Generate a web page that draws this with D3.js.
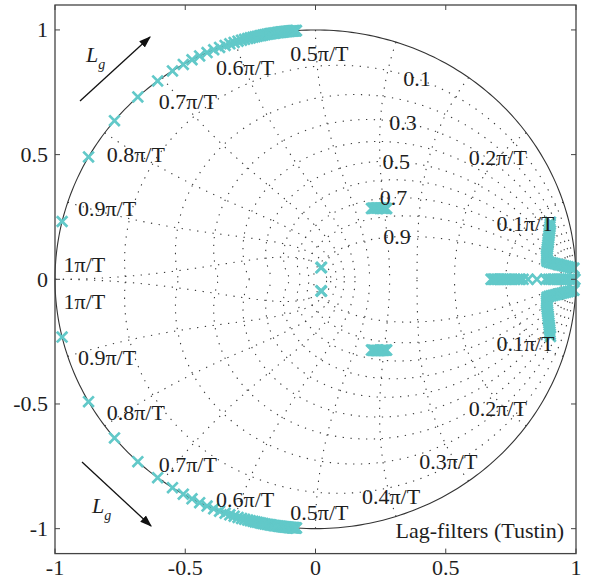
<!DOCTYPE html>
<html><head><meta charset="utf-8">
<script src="https://cdn.jsdelivr.net/npm/d3@7/dist/d3.min.js"></script>
<style>
html,body{margin:0;padding:0;background:#fff;}
</style></head>
<body><svg id="c" width="594" height="580" font-family="'Liberation Serif','Times New Roman',serif"></svg>
<script>
// ---------- data ----------
const xTicks = [-1, -0.5, 0, 0.5, 1];
const yTicks = [-1, -0.5, 0, 0.5, 1];
const xTickLabels = ["-1", "-0.5", "0", "0.5", "1"];
const yTickLabels = ["-1", "-0.5", "0", "0.5", "1"];
const zetaGrid = [0.1, 0.2, 0.3, 0.4, 0.5, 0.6, 0.7, 0.8, 0.9];
const zetaLabels = ["0.1", "0.3", "0.5", "0.7", "0.9"];
const zetaLabelAngle = [1.12, 1.08, 0.99, 0.83, 0.50];   // rad along spiral
const wnGrid = [0.1, 0.2, 0.3, 0.4, 0.5, 0.6, 0.7, 0.8, 0.9, 1.0]; // x pi/T
const wnLabels = ["0.1", "0.2", "0.3", "0.4", "0.5", "0.6", "0.7", "0.8", "0.9", "1"];
const wnLabelShowTop = [true, true, false, false, true, true, true, true, true, true];
// label anchor positions (upper half, data units)
const wnLabelX = [0.806, 0.700, 0.510, 0.290, 0.015, -0.270, -0.490, -0.690, -0.800, -0.887];
const wnLabelY = [0.241, 0.503, 0.714, 0.854, 0.920, 0.866, 0.728, 0.517, 0.299, 0.074];
// poles on unit circle (upper half, angle in degrees); lower half = conjugates
const circlePoleDeg = [166.6,150.6,140.5,133.0,127.3,123.3,120.5,118.3,116.4,114.6,113.0,111.6,110.3,109.2,108.2,107.3,106.5,105.8,105.1,104.5,103.9,103.4,102.9,102.4,102.0,101.6,101.2,100.8,100.4,100.1,99.8,99.5,99.2,98.9,98.6,98.3,98.1,97.8,97.6,97.4,97.2,97.0,96.8,96.6,96.4,96.2,96.0,95.8,95.7,95.5,95.3,95.2,95.0,94.9,94.7,94.6,94.4,94.3,94.2];
// other upper-half complex poles (re, im)
const poleRe = [0.021, 0.023,
  0.215,0.22,0.225,0.23,0.235,0.24,0.245,0.25,0.255,0.26,0.265,0.27,0.273,
  0.902,0.901,0.900,0.899,0.898,0.897,0.896,0.895,0.894,0.893,0.892,0.891,0.890,0.889,0.888,0.887,0.887,0.888,0.889,
  0.897,0.905,0.913,0.921,0.929,0.937,0.945,0.953,0.961,0.969,0.977,0.985,0.992];
const poleIm = [0.046, 0.048,
  0.284,0.285,0.285,0.286,0.286,0.286,0.286,0.286,0.285,0.285,0.285,0.284,0.284,
  0.229,0.220,0.211,0.202,0.193,0.184,0.175,0.166,0.157,0.148,0.139,0.130,0.121,0.112,0.103,0.095,0.087,0.079,0.072,
  0.068,0.066,0.064,0.062,0.060,0.058,0.056,0.054,0.052,0.050,0.048,0.046,0.044];
// real-axis poles
const realPoles = [0.674,0.679,0.684,0.689,0.695,0.701,0.707,0.714,0.721,0.729,0.737,0.746,0.755,0.765,0.775,0.786,0.797,
  0.816,0.850,0.883,
  0.895,0.903,0.911,0.919,0.927,0.935,0.943,0.951,0.959,0.967,0.975,0.983,0.990,0.996];
const annotation = "Lag-filters (Tustin)";

// ---------- scales ----------
const svg = d3.select("#c");
const x = d3.scaleLinear().domain([-1, 1]).range([55, 576]);
const y = d3.scaleLinear().domain([-1.1, 1.1]).range([553.6, 5]);
const ink = "#1e1e1e";
const poleColor = "#62C9C9";
const line = d3.line().x(d => x(d[0])).y(d => y(d[1]));

// ---------- grid ----------
const g = svg.append("g");
const gridStyle = p => p.attr("fill", "none").attr("stroke", "#3a3a3a").attr("stroke-width", 1.1)
  .attr("stroke-dasharray", "1.3,6.5").attr("stroke-linecap", "butt");
zetaGrid.forEach(z => {
  const k = z / Math.sqrt(1 - z * z);
  [1, -1].forEach(sg => {
    const pts = d3.range(0, 201).map(i => {
      const th = Math.PI * i / 200, r = Math.exp(-k * th);
      return [r * Math.cos(th), sg * r * Math.sin(th)];
    });
    g.append("path").attr("d", line(pts)).call(gridStyle);
  });
});
wnGrid.forEach(w => {
  [1, -1].forEach(sg => {
    const pts = d3.range(0, 201).map(i => {
      const z = i / 200, r = Math.exp(-z * w * Math.PI), th = w * Math.PI * Math.sqrt(1 - z * z);
      return [r * Math.cos(th), sg * r * Math.sin(th)];
    });
    g.append("path").attr("d", line(pts)).call(gridStyle);
  });
});

// unit circle
const circ = d3.range(0, 361).map(i => [Math.cos(i * Math.PI / 180), Math.sin(i * Math.PI / 180)]);
svg.append("path").attr("d", line(circ)).attr("fill", "none").attr("stroke", "#333").attr("stroke-width", 1.1);

// ---------- poles ----------
const poles = [];
circlePoleDeg.forEach(a => { const t = a * Math.PI / 180; poles.push([Math.cos(t), Math.sin(t)]); poles.push([Math.cos(t), -Math.sin(t)]); });
poleRe.forEach((re, i) => { poles.push([re, poleIm[i]]); poles.push([re, -poleIm[i]]); });
realPoles.forEach(re => poles.push([re, 0]));
const s = 5.3;
svg.append("g").selectAll("path").data(poles).join("path")
  .attr("d", d => { const cx = x(d[0]), cy = y(d[1]);
    return `M${cx - s},${cy - s}L${cx + s},${cy + s}M${cx - s},${cy + s}L${cx + s},${cy - s}`; })
  .attr("stroke", poleColor).attr("stroke-width", 2.7).attr("fill", "none");

// ---------- grid labels ----------
const fs = 22;
const txt = () => svg.append("text").attr("fill", ink).attr("font-size", fs);
zetaLabels.forEach((lab, i) => {
  const z = +lab, k = z / Math.sqrt(1 - z * z), th = zetaLabelAngle[i], r = Math.exp(-k * th);
  txt().attr("x", x(r * Math.cos(th))).attr("y", y(r * Math.sin(th)))
    .attr("text-anchor", "middle").attr("dominant-baseline", "central").text(lab);
});
wnLabels.forEach((lab, i) => {
  [1, -1].forEach(sg => {
    if (sg === 1 && !wnLabelShowTop[i]) return;
    txt().attr("x", x(wnLabelX[i])).attr("y", y(sg * wnLabelY[i]) + 4)
      .attr("text-anchor", "middle").attr("dominant-baseline", "central").text(lab + "π/T");
  });
});

// ---------- axes box ----------
const [x0, x1] = x.range(), [y0, y1] = y.range();
const axc = "#444";
svg.append("rect").attr("x", x0).attr("y", y1).attr("width", x1 - x0).attr("height", y0 - y1)
  .attr("fill", "none").attr("stroke", axc).attr("stroke-width", 1.3);
const tl = 5;
xTicks.forEach((t, i) => {
  svg.append("line").attr("x1", x(t)).attr("x2", x(t)).attr("y1", y0).attr("y2", y0 - tl).attr("stroke", axc);
  svg.append("line").attr("x1", x(t)).attr("x2", x(t)).attr("y1", y1).attr("y2", y1 + tl).attr("stroke", axc);
  txt().attr("x", x(t)).attr("y", 575).attr("text-anchor", "middle").text(xTickLabels[i]);
});
yTicks.forEach((t, i) => {
  svg.append("line").attr("y1", y(t)).attr("y2", y(t)).attr("x1", x0).attr("x2", x0 + tl).attr("stroke", axc);
  svg.append("line").attr("y1", y(t)).attr("y2", y(t)).attr("x1", x1).attr("x2", x1 - tl).attr("stroke", axc);
  txt().attr("x", 48).attr("y", y(t)).attr("text-anchor", "end").attr("dominant-baseline", "central").text(yTickLabels[i]);
});

// ---------- arrows and L_g ----------
const defs = svg.append("defs");
defs.append("marker").attr("id", "ah").attr("viewBox", "0 0 10 10").attr("refX", 9).attr("refY", 5)
  .attr("markerWidth", 12).attr("markerHeight", 12).attr("markerUnits", "userSpaceOnUse").attr("orient", "auto")
  .append("path").attr("d", "M0,1.5L10,5L0,8.5z").attr("fill", "#111");
svg.append("line").attr("x1", 80).attr("y1", 101).attr("x2", 150).attr("y2", 37)
  .attr("stroke", "#111").attr("stroke-width", 1.3).attr("marker-end", "url(#ah)");
svg.append("line").attr("x1", 82).attr("y1", 462).attr("x2", 151).attr("y2", 526)
  .attr("stroke", "#111").attr("stroke-width", 1.3).attr("marker-end", "url(#ah)");
function lg(px, py) {
  const t = txt().attr("x", px).attr("y", py).attr("font-style", "italic");
  t.append("tspan").text("L");
  t.append("tspan").attr("dy", 7).attr("font-size", 14).text("g");
}
lg(86, 62);
lg(92, 513);

txt().attr("x", 564).attr("y", 538).attr("text-anchor", "end").text(annotation);
</script></body></html>
